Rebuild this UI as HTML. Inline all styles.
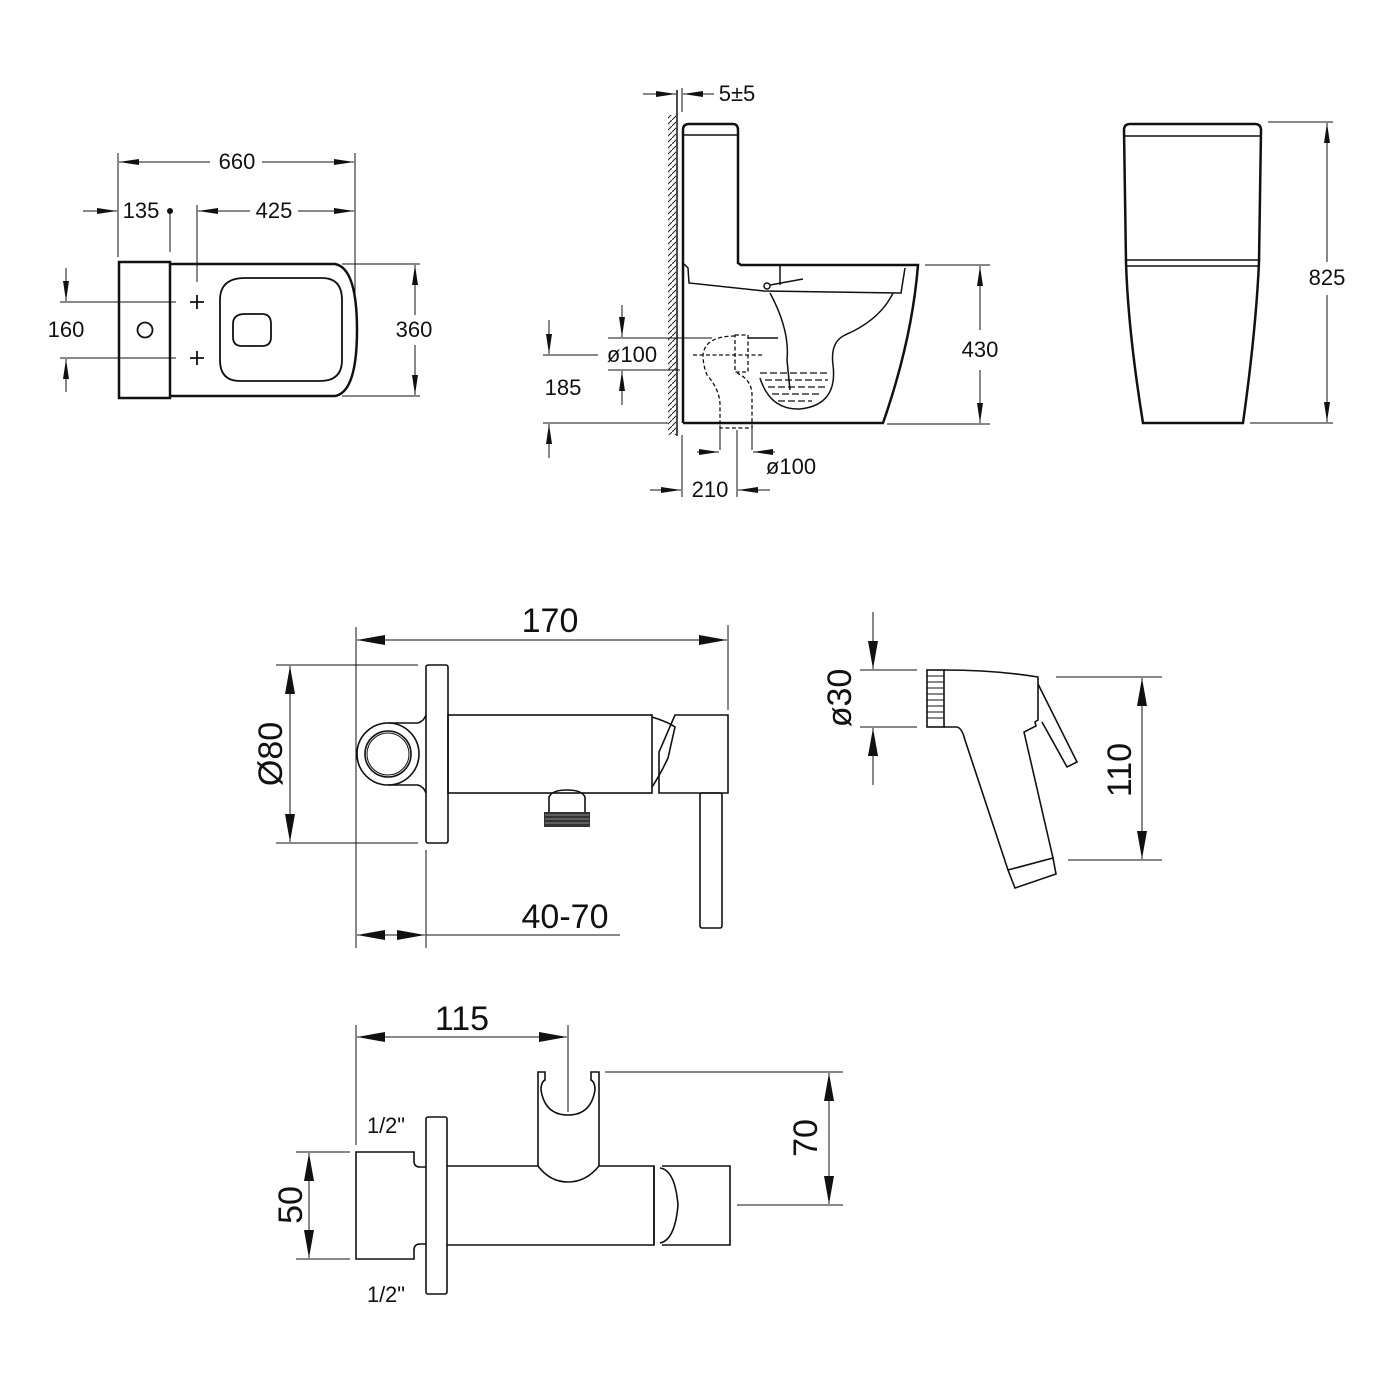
<!DOCTYPE html>
<html><head><meta charset="utf-8"><style>
html,body{margin:0;padding:0;background:#fff;}
svg{display:block;}
text{font-family:"Liberation Sans",Arial,sans-serif;fill:#111;}
</style></head><body>
<svg width="1400" height="1400" viewBox="0 0 1400 1400" xmlns="http://www.w3.org/2000/svg">
<defs>
<marker id="a" viewBox="0 0 20 8" refX="20" refY="4" markerWidth="20" markerHeight="8" markerUnits="userSpaceOnUse" orient="auto-start-reverse"><path d="M0,1 L20,4 L0,7 z" fill="#111"/></marker>
<marker id="b" viewBox="0 0 28 10" refX="28" refY="5" markerWidth="28" markerHeight="10" markerUnits="userSpaceOnUse" orient="auto-start-reverse"><path d="M0,0 L28,5 L0,10 z" fill="#111"/></marker>
<pattern id="h" width="6" height="6" patternUnits="userSpaceOnUse"><path d="M0,6 L6,0" stroke="#222" stroke-width="1"/></pattern>
</defs>

<!-- ===== TOP VIEW ===== -->
<g stroke="#111" fill="none" stroke-width="1">
<line x1="118" y1="153" x2="118" y2="257"/>
<line x1="355" y1="153" x2="355" y2="293"/>
<line x1="119" y1="162" x2="210" y2="162" marker-start="url(#a)"/>
<line x1="262" y1="162" x2="354" y2="162" marker-end="url(#a)"/>
<line x1="83" y1="211" x2="117" y2="211" marker-end="url(#a)"/>
<line x1="170" y1="211" x2="170" y2="252"/>
<line x1="197" y1="205" x2="197" y2="282"/>
<line x1="198" y1="211" x2="250" y2="211" marker-start="url(#a)"/>
<line x1="298" y1="211" x2="354" y2="211" marker-end="url(#a)"/>
<line x1="60" y1="302" x2="176" y2="302"/>
<line x1="60" y1="358" x2="176" y2="358"/>
<line x1="66" y1="268" x2="66" y2="301" marker-end="url(#a)"/>
<line x1="66" y1="392" x2="66" y2="359" marker-end="url(#a)"/>
<line x1="342" y1="264" x2="420" y2="264"/>
<line x1="342" y1="396" x2="420" y2="396"/>
<line x1="415" y1="265" x2="415" y2="315" marker-start="url(#a)"/>
<line x1="415" y1="345" x2="415" y2="395" marker-end="url(#a)"/>
</g>
<circle cx="170" cy="211" r="3" fill="#111"/>
<g stroke="#111" fill="none" stroke-width="2.5">
<rect x="119" y="262" width="51" height="136"/>
<path d="M170,264 H335 Q357,268 357,330 Q357,392 335,396 H170"/>
</g>
<g stroke="#111" fill="none" stroke-width="1.8">
<path d="M245,278 H322 Q342,278 342,300 V360 Q342,381 320,381 H240 Q220,381 220,360 V300 Q220,278 245,278 Z"/>
<path d="M245,314 H262 Q271,314 271,324 V337 Q271,346 262,346 H242 Q233,346 233,337 V324 Q233,314 245,314 Z"/>
<circle cx="145" cy="330" r="7.5"/>
<path d="M190,302 H204 M197,295 V309 M190,358 H204 M197,351 V365"/>
</g>
<g font-size="22" text-anchor="middle">
<text x="237" y="169">660</text>
<text x="141" y="218">135</text>
<text x="274" y="218">425</text>
<text x="66" y="337">160</text>
<text x="414" y="337">360</text>
</g>

<!-- ===== SIDE VIEW ===== -->
<rect x="668" y="115" width="8" height="320" fill="url(#h)"/>
<line x1="677" y1="90" x2="677" y2="436" stroke="#111" stroke-width="1.5"/>
<g stroke="#111" fill="none" stroke-width="1">
<line x1="682" y1="88" x2="682" y2="112"/>
<line x1="643" y1="94" x2="676" y2="94" marker-end="url(#a)"/>
<line x1="714" y1="94" x2="683" y2="94" marker-end="url(#a)"/>
<line x1="925" y1="265" x2="990" y2="265"/>
<line x1="887" y1="424" x2="990" y2="424"/>
<line x1="980" y1="266" x2="980" y2="330" marker-start="url(#a)"/>
<line x1="980" y1="370" x2="980" y2="423" marker-end="url(#a)"/>
<line x1="608" y1="338" x2="712" y2="338"/>
<line x1="608" y1="370" x2="680" y2="370"/>
<line x1="543" y1="355" x2="598" y2="355"/>
<line x1="543" y1="423" x2="668" y2="423"/>
<line x1="622" y1="305" x2="622" y2="337" marker-end="url(#a)"/>
<line x1="622" y1="405" x2="622" y2="371" marker-end="url(#a)"/>
<line x1="549" y1="320" x2="549" y2="354" marker-end="url(#a)"/>
<line x1="549" y1="458" x2="549" y2="424" marker-end="url(#a)"/>
<line x1="682" y1="435" x2="682" y2="497"/>
<line x1="737" y1="430" x2="737" y2="497"/>
<line x1="720" y1="425" x2="720" y2="450"/>
<line x1="752" y1="428" x2="752" y2="450"/>
<line x1="650" y1="490" x2="681" y2="490" marker-end="url(#a)"/>
<line x1="770" y1="490" x2="738" y2="490" marker-end="url(#a)"/>
<line x1="697" y1="452" x2="719" y2="452" marker-end="url(#a)"/>
<line x1="775" y1="452" x2="753" y2="452" marker-end="url(#a)"/>
</g>
<g stroke="#111" fill="none" stroke-width="2.5">
<path d="M683,423 V130 Q683,124 689,124 H733 Q738,124 738,130 V263 L741,265 H918 Q912,340 883,423 H683"/>
</g>
<g stroke="#111" fill="none" stroke-width="1.5">
<line x1="684" y1="135" x2="737" y2="135"/>
<path d="M684,264 L688,268 L689,283 L764,291 L901,293 L905,268"/>
<circle cx="767" cy="286" r="3"/>
<path d="M770,285 L803,279"/>
<line x1="780" y1="266" x2="780" y2="285"/>
<path d="M770,293 Q790,330 787,360 L790,390"/>
<path d="M893,293 Q880,320 845,335 Q830,342 833,365 Q838,405 800,409 Q770,410 760,378"/>
<path d="M748,338 H778"/>
</g>
<g stroke="#111" fill="none" stroke-width="1.3" stroke-dasharray="4,2.5">
<path d="M735,336 Q705,336 703,355 Q703,365 707,375 Q720,390 720,405 V428 H752 V395 Q752,380 737,373"/>
<rect x="735" y="335" width="13" height="37"/>
<line x1="693" y1="355" x2="762" y2="355"/>
<path d="M760,373 H830 M765,380 H828 M768,387 H825 M772,394 H820 M778,401 H812" stroke-dasharray="7,3"/>
</g>
<g font-size="22" text-anchor="middle">
<text x="737" y="101">5±5</text>
<text x="980" y="357">430</text>
<text x="632" y="362">ø100</text>
<text x="563" y="395">185</text>
<text x="791" y="474">ø100</text>
<text x="710" y="497">210</text>
</g>

<!-- ===== FRONT VIEW ===== -->
<g stroke="#111" fill="none" stroke-width="2.5">
<path d="M1143,423 Q1128,330 1126,262 L1124,130 Q1124,124 1130,124 H1255 Q1261,124 1261,130 L1259,262 Q1256,330 1243,423 Z"/>
</g>
<g stroke="#111" fill="none" stroke-width="1.5">
<line x1="1125" y1="136" x2="1260" y2="136"/>
<line x1="1126" y1="260" x2="1259" y2="260"/>
<line x1="1127" y1="266" x2="1258" y2="266"/>
</g>
<g stroke="#111" fill="none" stroke-width="1">
<line x1="1268" y1="122" x2="1333" y2="122"/>
<line x1="1250" y1="423" x2="1333" y2="423"/>
<line x1="1327" y1="123" x2="1327" y2="262" marker-start="url(#a)"/>
<line x1="1327" y1="295" x2="1327" y2="422" marker-end="url(#a)"/>
</g>
<text x="1327" y="285" font-size="22" text-anchor="middle">825</text>

<!-- ===== MIXER ===== -->
<g stroke="#111" fill="none" stroke-width="1">
<line x1="356" y1="627" x2="356" y2="948"/>
<line x1="728" y1="625" x2="728" y2="710"/>
<line x1="357" y1="640" x2="727" y2="640" marker-start="url(#b)" marker-end="url(#b)"/>
<line x1="276" y1="665" x2="418" y2="665"/>
<line x1="276" y1="843" x2="418" y2="843"/>
<line x1="290" y1="666" x2="290" y2="842" marker-start="url(#b)" marker-end="url(#b)"/>
<line x1="426" y1="850" x2="426" y2="948"/>
<line x1="357" y1="935" x2="390" y2="935" marker-start="url(#b)"/>
<line x1="390" y1="935" x2="425" y2="935" marker-end="url(#b)"/>
<line x1="426" y1="935" x2="620" y2="935"/>
</g>
<g stroke="#111" fill="none" stroke-width="1.6">
<rect x="426" y="665" width="22" height="178" rx="2"/>
<rect x="448" y="715" width="204" height="78"/>
<path d="M675,715 H728 V793 H659 V752 Z"/>
<path d="M652,717 Q668,722 675,727 L668,758 Q660,775 652,787"/>
<rect x="700" y="793" width="22" height="135" rx="2"/>
<path d="M549,812 V797 Q552,790 567,790 Q582,790 585,797 V812"/>
<circle cx="388" cy="754" r="31"/>
<circle cx="388" cy="754" r="23"/>
<circle cx="388" cy="754" r="21" stroke-width="1"/>
<path d="M388,723 H418 Q424,721 426,715 M388,785 H418 Q424,787 426,793"/>
</g>
<rect x="544" y="812" width="46" height="15" fill="#333"/>
<g stroke="#888" stroke-width="1"><line x1="545" y1="815" x2="589" y2="815"/><line x1="545" y1="819" x2="589" y2="819"/><line x1="545" y1="823" x2="589" y2="823"/></g>
<text x="550" y="632" font-size="34" text-anchor="middle">170</text>
<text x="565" y="928" font-size="34" text-anchor="middle">40-70</text>
<text transform="translate(282,754) rotate(-90)" font-size="34" text-anchor="middle">Ø80</text>

<!-- ===== SPRAYER ===== -->
<g stroke="#111" fill="none" stroke-width="1">
<line x1="860" y1="670" x2="917" y2="670"/>
<line x1="860" y1="727" x2="917" y2="727"/>
<line x1="873" y1="612" x2="873" y2="669" marker-end="url(#b)"/>
<line x1="873" y1="785" x2="873" y2="728" marker-end="url(#b)"/>
<line x1="1056" y1="677" x2="1162" y2="677"/>
<line x1="1068" y1="860" x2="1162" y2="860"/>
<line x1="1142" y1="678" x2="1142" y2="859" marker-start="url(#b)" marker-end="url(#b)"/>
</g>
<g stroke="#111" fill="none" stroke-width="1.6">
<rect x="927" y="670" width="17" height="57"/>
<path d="M944,670 Q995,670 1038,677 V720 L1035,722 L1036,726 L1024,732 L1053,858 M944,727 H957 Q962,728 965,740 L1008,870"/>
<path d="M1038,684 L1077,762 L1067,767 L1042,722"/>
<path d="M1008,870 L1053,858 L1056,874 L1015,888 Z"/>
</g>
<g stroke="#111" stroke-width="1">
<line x1="927" y1="676" x2="944" y2="676"/><line x1="927" y1="682" x2="944" y2="682"/><line x1="927" y1="688" x2="944" y2="688"/><line x1="927" y1="694" x2="944" y2="694"/><line x1="927" y1="700" x2="944" y2="700"/><line x1="927" y1="706" x2="944" y2="706"/><line x1="927" y1="712" x2="944" y2="712"/><line x1="927" y1="718" x2="944" y2="718"/>
</g>
<text transform="translate(851,698) rotate(-90)" font-size="34" text-anchor="middle">ø30</text>
<text transform="translate(1131,770) rotate(-90)" font-size="34" text-anchor="middle">110</text>

<!-- ===== HOLDER ===== -->
<g stroke="#111" fill="none" stroke-width="1">
<line x1="356" y1="1025" x2="356" y2="1145"/>
<line x1="568" y1="1025" x2="568" y2="1112"/>
<line x1="357" y1="1037" x2="567" y2="1037" marker-start="url(#b)" marker-end="url(#b)"/>
<line x1="605" y1="1072" x2="843" y2="1072"/>
<line x1="737" y1="1205" x2="843" y2="1205"/>
<line x1="829" y1="1073" x2="829" y2="1204" marker-start="url(#b)" marker-end="url(#b)"/>
<line x1="296" y1="1152" x2="350" y2="1152"/>
<line x1="296" y1="1259" x2="350" y2="1259"/>
<line x1="309" y1="1153" x2="309" y2="1258" marker-start="url(#b)" marker-end="url(#b)"/>
</g>
<g stroke="#111" fill="none" stroke-width="1.6">
<rect x="426" y="1117" width="21" height="177" rx="2"/>
<path d="M426,1167 H420 Q414,1167 414,1161 V1152 H356 V1259 H414 V1250 Q414,1244 420,1244 H426"/>
<path d="M447,1166 H538 V1072 H545 V1080 Q541,1082 541,1090 Q545,1115 568,1115 Q591,1115 595,1090 Q595,1082 591,1080 V1072 H599 V1166 H654 V1245 H447"/>
<path d="M538,1166 Q550,1182 568,1182 Q586,1182 599,1166"/>
<path d="M654,1166 V1245 M660,1168 Q675,1170 678,1205 Q675,1240 660,1243"/>
<path d="M662,1166 H730 V1245 H662"/>
</g>
<g font-size="34" text-anchor="middle">
<text x="462" y="1030">115</text>
<text transform="translate(817,1138) rotate(-90)">70</text>
<text transform="translate(302,1205) rotate(-90)">50</text>
</g>
<g font-size="22" text-anchor="middle">
<text x="386" y="1133" textLength="38" lengthAdjust="spacingAndGlyphs">1/2"</text>
<text x="386" y="1302" textLength="38" lengthAdjust="spacingAndGlyphs">1/2"</text>
</g>
</svg>
</body></html>
